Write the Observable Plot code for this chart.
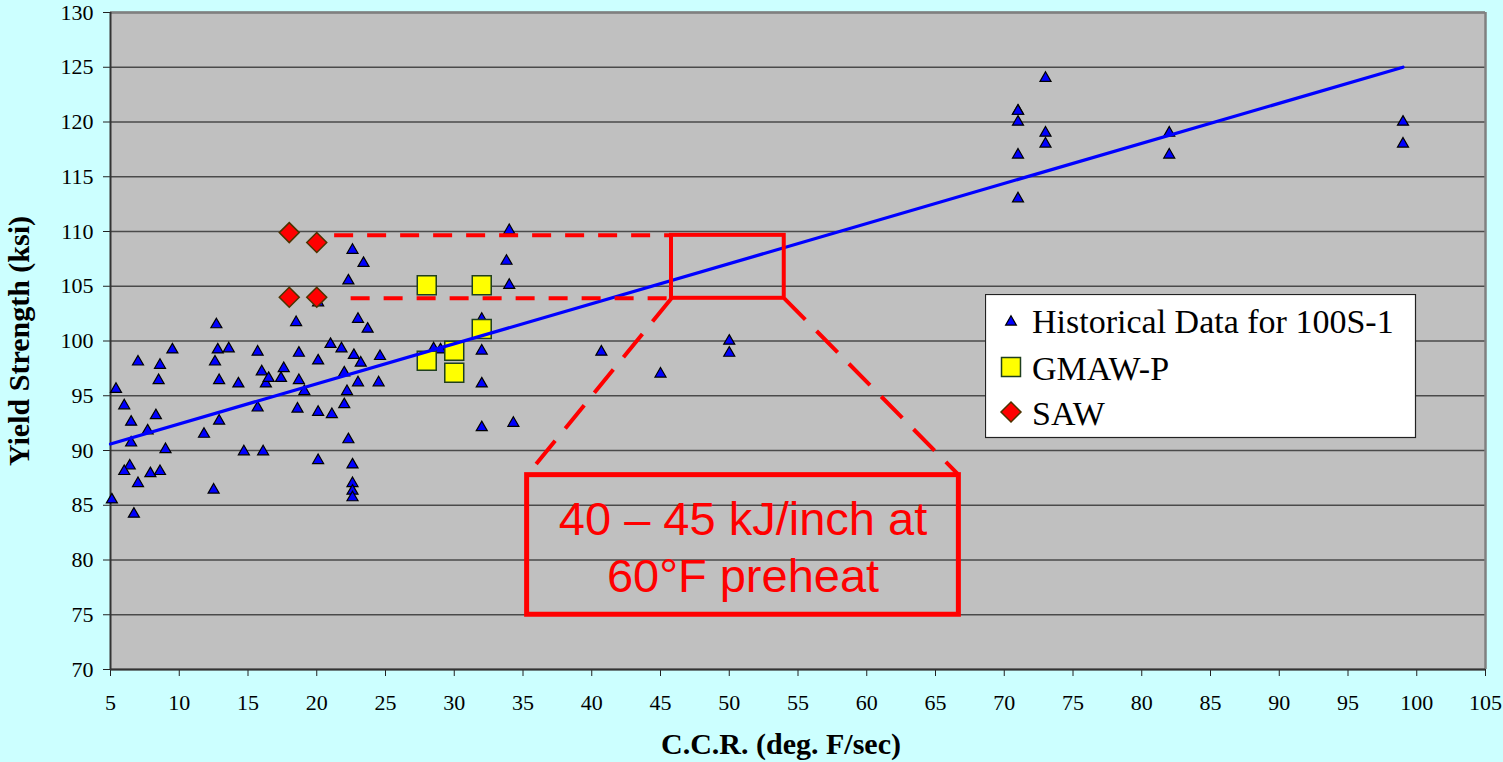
<!DOCTYPE html>
<html><head><meta charset="utf-8">
<script src="https://cdn.jsdelivr.net/npm/d3@7"></script>
<script src="https://cdn.jsdelivr.net/npm/@observablehq/plot@0.6"></script>
<style>
html,body{margin:0;padding:0;background:#CCFFFF;}
#wrap{position:relative;width:1503px;height:762px;overflow:hidden;}
#wrap svg{display:block;}
#legend{position:absolute;left:985px;top:294px;}
</style></head><body><div id="wrap"></div>
<script>
// Historical Data for 100S-1
const histX = [5.1,5.4,6.0,6.5,6.5,6.4,6.0,6.7,7.0,7.0,
  7.7,7.9,8.3,8.5,8.6,8.6,9.0,9.5,11.8,12.5,
  12.7,12.6,12.8,12.9,12.9,13.6,14.3,14.7,15.7,15.7,
  16.0,16.1,16.3,16.5,17.4,17.6,18.5,18.7,18.7,18.6,
  19.1,20.1,20.1,20.1,20.1,21.0,21.1,21.8,22.0,22.0,
  22.2,22.3,22.3,22.6,22.7,22.6,22.6,22.6,22.6,23.0,
  23.0,23.2,23.4,23.7,24.5,24.6,28.5,29.0,32.0,32.0,
  32.0,32.0,33.8,34.0,34.0,34.3,40.7,45.0,50.0,50.0,
  71,71,71,71,71,73,73,73,82,82,99,99];
const histY = [85.5,95.6,94.1,92.6,90.7,88.6,88.1,84.2,98.1,87.0,
  91.8,87.9,93.2,96.4,97.8,88.1,90.1,99.2,91.5,86.4,
  101.5,98.1,99.2,96.4,92.7,99.3,96.1,89.9,99.0,93.9,
  97.2,89.9,96.1,96.6,96.6,97.5,101.7,98.9,96.4,93.8,
  95.4,103.5,98.2,93.5,89.1,99.7,93.3,99.3,97.1,94.2,
  95.4,105.5,91.0,108.3,98.7,88.7,87.0,86.3,85.7,102.0,
  96.2,98.0,107.1,101.1,96.2,98.6,99.3,99.2,102.0,99.1,
  96.1,92.1,107.3,110.1,105.1,92.5,99.0,97.0,100.0,98.9,
  121,120,117,113,121,124,119,118,119,117,120,118];
// GMAW-P
const gmawX = [28,32,32,28,30,30];
const gmawY = [105.1,105.1,101.1,98.2,99.1,97.1];
// SAW
const sawX = [18,20,18,20];
const sawY = [109.9,109.0,104.0,104.0];
// Trend line
const trendX = [5,99];
const trendY = [90.6,125.0];
// Ticks
const xTicks = [5,10,15,20,25,30,35,40,45,50,55,60,65,70,75,80,85,90,95,100,105];
const yTicks = [70,75,80,85,90,95,100,105,110,115,120,125,130];
// Annotation (data units)
const dashLevels = [109.65,103.9];
const dashStarts = [21.3,22.5];
const dashEnd = 45.8;
const zoomBoxX = [45.8,54.0];
const zoomBoxY = [103.9,109.65];
const calloutX = [35.3,66.7];
const calloutY = [75.0,87.75];
const calloutText = "40 – 45 kJ/inch at\n60°F preheat";
const labels = {x:"C.C.R. (deg. F/sec)", y:"Yield Strength (ksi)"};
const legendNames = ["Historical Data for 100S-1","GMAW-P","SAW"];

const hist = histX.map((x,i)=>({x, y:histY[i]}));
const gmaw = gmawX.map((x,i)=>({x, y:gmawY[i]}));
const saw = sawX.map((x,i)=>({x, y:sawY[i]}));
const trend = trendX.map((x,i)=>({x, y:trendY[i]}));
const dashes = dashLevels.map((y,i)=>({y, x1:dashStarts[i], x2:dashEnd}));
const smallBox = [{x1:zoomBoxX[0], x2:zoomBoxX[1], y1:zoomBoxY[0], y2:zoomBoxY[1]}];
const bigBox = [{x1:calloutX[0], x2:calloutX[1], y1:calloutY[0], y2:calloutY[1]}];
const diag = [
  {x1:zoomBoxX[0], y1:zoomBoxY[0], x2:calloutX[0], y2:calloutY[1]},
  {x1:zoomBoxX[1], y1:zoomBoxY[0], x2:calloutX[1], y2:calloutY[1]}
];
const callLabel = [{x:(calloutX[0]+calloutX[1])/2, y:(calloutY[0]+calloutY[1])/2, t:calloutText}];

const chart = Plot.plot({
  width:1503, height:762,
  marginLeft:110, marginRight:18, marginTop:12, marginBottom:93,
  style:{background:"transparent", fontFamily:"'Liberation Serif', 'Times New Roman', serif", fontSize:"22px", color:"#000", overflow:"visible"},
  x:{domain:[5,105]},
  y:{domain:[70,130]},
  marks:[
    Plot.frame({fill:"#C0C0C0", stroke:"none"}),
    Plot.ruleY(yTicks, {stroke:"#4a4a4a", strokeWidth:1.3}),
    Plot.ruleY([130], {stroke:"#808080", strokeWidth:2.5}),
    Plot.ruleX([105], {stroke:"#808080", strokeWidth:2.5}),
    Plot.axisX({ticks:xTicks, tickSize:7, tickPadding:18, stroke:"#222", label:null, tickFormat:d=>String(d)}),
    Plot.axisY({ticks:yTicks, tickSize:7, tickPadding:10, stroke:"#222", label:null, tickFormat:d=>String(d)}),
    Plot.ruleX([5], {stroke:"#333", strokeWidth:2}),
    Plot.ruleY([70], {stroke:"#333", strokeWidth:2}),
    Plot.dot(hist, {x:"x", y:"y", symbol:"triangle", r:4.1, fill:"#0000FF", stroke:"#000", strokeWidth:1.2}),
    Plot.dot(gmaw, {x:"x", y:"y", symbol:"square", r:10.7, fill:"#FFFF00", stroke:"#1f3f1f", strokeWidth:1.5}),
    Plot.dot(saw, {x:"x", y:"y", symbol:"diamond2", r:9, fill:"#FF0000", stroke:"#4d3300", strokeWidth:1.5}),
    Plot.line(trend, {x:"x", y:"y", stroke:"#0000FF", strokeWidth:3.2}),
    Plot.ruleY(dashes, {y:"y", x1:"x1", x2:"x2", stroke:"#FF0000", strokeWidth:4, strokeDasharray:"19,14"}),
    Plot.link(diag, {x1:"x1", y1:"y1", x2:"x2", y2:"y2", stroke:"#FF0000", strokeWidth:4, strokeDasharray:"30,16"}),
    Plot.rect(smallBox, {x1:"x1", x2:"x2", y1:"y1", y2:"y2", fill:"none", stroke:"#FF0000", strokeWidth:4}),
    Plot.rect(bigBox, {x1:"x1", x2:"x2", y1:"y1", y2:"y2", fill:"none", stroke:"#FF0000", strokeWidth:5}),
    Plot.text(callLabel, {x:"x", y:"y", text:"t", fill:"#FF0000", fontSize:47, lineHeight:1.21, fontFamily:"'Liberation Sans', Arial, sans-serif"}),
    Plot.text([labels.y], {text:d=>d, frameAnchor:"left", dx:-91, rotate:-90, textAnchor:"middle", lineAnchor:"middle", fontSize:30, fontWeight:"bold"}),
    Plot.text([labels.x], {text:d=>d, frameAnchor:"bottom", dx:-17, dy:75, textAnchor:"middle", lineAnchor:"middle", fontSize:30, fontWeight:"bold"})
  ]
});
document.getElementById("wrap").appendChild(chart);

// Legend
const lg = d3.select("#wrap").append("svg").attr("id","legend")
  .attr("width",432).attr("height",145)
  .style("position","absolute").style("left","985px").style("top","294px");
lg.append("rect").attr("x",0.5).attr("y",0.5).attr("width",430).attr("height",143)
  .attr("fill","#fff").attr("stroke","#222").attr("stroke-width",1.2);
const sym = [
  {type:d3.symbolTriangle, size:50, fill:"#0000FF", stroke:"#000", sw:1.2, cy:28},
  {type:d3.symbolSquare, size:360, fill:"#FFFF00", stroke:"#1f3f1f", sw:1.5, cy:73},
  {type:d3.symbolDiamond2, size:255, fill:"#FF0000", stroke:"#4d3300", sw:1.5, cy:118}
];
const baselines = [39,86,131];
sym.forEach((s,i)=>{
  lg.append("path").attr("d", d3.symbol(s.type, s.size)()).attr("transform",`translate(26,${s.cy})`)
    .attr("fill",s.fill).attr("stroke",s.stroke).attr("stroke-width",s.sw);
  lg.append("text").attr("x",47).attr("y",baselines[i]).text(legendNames[i])
    .attr("font-family","'Liberation Serif', 'Times New Roman', serif").attr("font-size",34).attr("fill","#000");
});
</script>
</body></html>
